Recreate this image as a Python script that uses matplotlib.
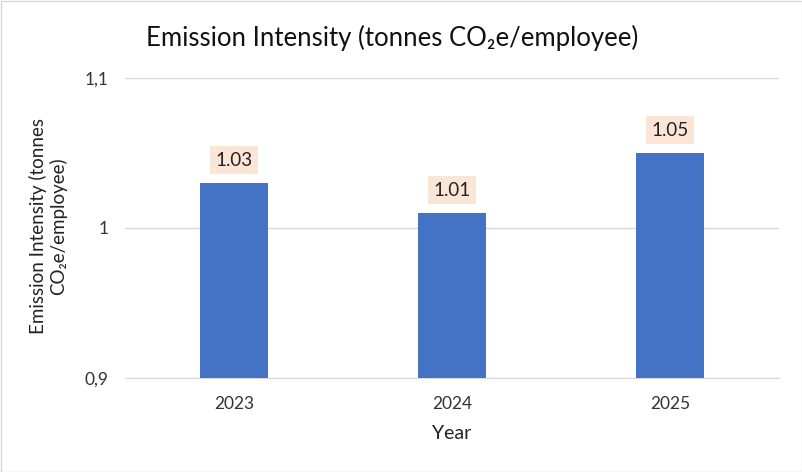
import matplotlib
matplotlib.use("Agg")
import matplotlib.pyplot as plt
from matplotlib.patches import Rectangle

years = ["2023", "2024", "2025"]
values = [1.03, 1.01, 1.05]
value_labels = ["1.03", "1.01", "1.05"]
ytick_values = [0.9, 1.0, 1.1]
ytick_labels = ["0,9", "1", "1,1"]

plt.rcParams['font.family'] = ['Lato', 'DejaVu Sans']

W, H = 803, 472
fig = plt.figure(figsize=(W/100, H/100), dpi=100)
ax = fig.add_axes([125/W, 1-378/H, (779-125)/W, (378-78)/H])

x = list(range(len(years)))
ax.bar(x, values, width=0.31, color='#4472C4', zorder=3)
ax.set_xlim(-0.5, len(years)-0.5)
ax.set_ylim(0.9, 1.1)
ax.set_yticks(ytick_values)
ax.set_yticklabels(ytick_labels)
ax.set_xticks(x)
ax.set_xticklabels(years)
ax.grid(axis='y', color='#D9D9D9', linewidth=1, zorder=0)
for s in ['top', 'right', 'left']:
    ax.spines[s].set_visible(False)
ax.spines['bottom'].set_color('#D9D9D9')
ax.tick_params(axis='both', length=0, labelsize=12.5, colors='#333333')
ax.tick_params(axis='x', pad=13)
ax.tick_params(axis='y', pad=12)

for xi, v, lab in zip(x, values, value_labels):
    ax.annotate(lab, (xi, v), xytext=(0, 16.5), textcoords='offset points',
                ha='center', va='center', fontsize=13.5, color='#222222',
                bbox=dict(boxstyle='square,pad=0.3', facecolor='#FBE5D6', edgecolor='none'),
                zorder=4)

ax.set_xlabel('Year', fontsize=14, color='#222222', labelpad=9)
fig.text(392/W, 1-38/H, 'Emission Intensity (tonnes CO\u2082e/employee)', ha='center', va='center',
         fontsize=18.5, color='#111111')
fig.text(48/W, 1-226/H, 'Emission Intensity (tonnes\nCO\u2082e/employee)', ha='center', va='center',
         rotation=90, fontsize=13.5, color='#222222', linespacing=1.15)

fig.add_artist(Rectangle((0.5/W, 0.5/H), 1-1.5/W, 1-1.5/H, transform=fig.transFigure,
                         fill=False, edgecolor='#D9D9D9', linewidth=1))

fig.savefig('out.png', dpi=100)
